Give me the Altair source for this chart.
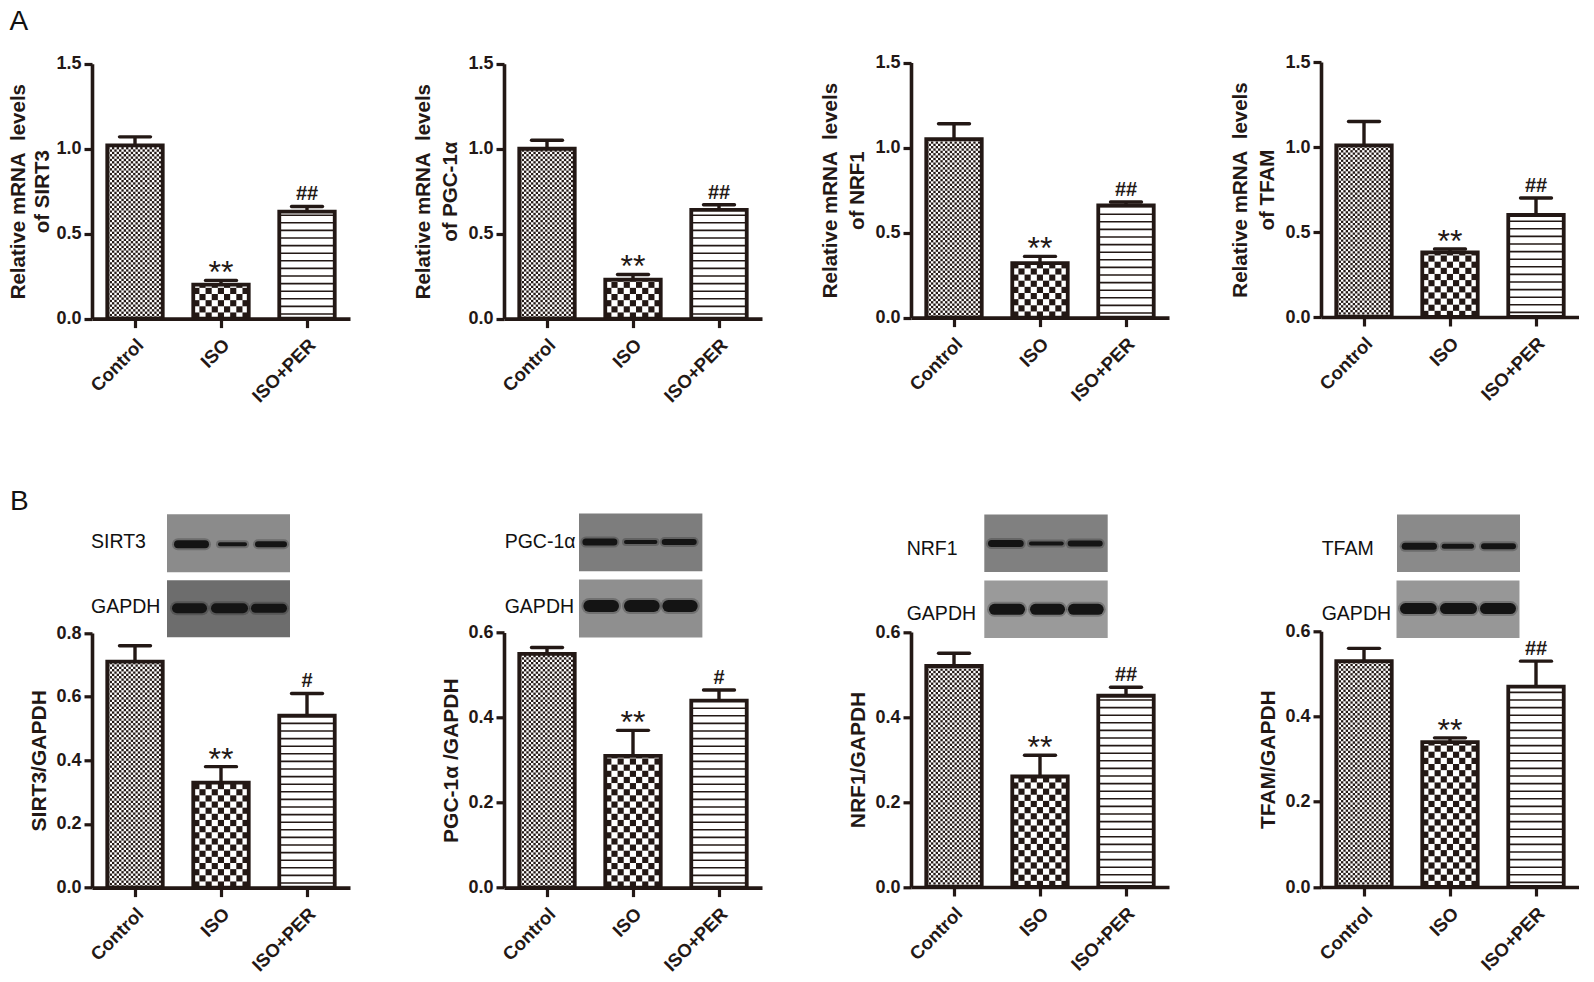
import json

import altair as alt
import pandas as pd

alt.data_transformers.disable_max_rows()

INK = "#231815"
FONT = "Liberation Sans"

groups = ["Control", "ISO", "ISO+PER"]

# bar heights and the top of each error bar
sirt3_mrna = [1.02, 0.20, 0.63]
sirt3_mrna_top = [1.07, 0.225, 0.66]
pgc_mrna = [1.00, 0.23, 0.64]
pgc_mrna_top = [1.05, 0.26, 0.67]
nrf1_mrna = [1.05, 0.32, 0.66]
nrf1_mrna_top = [1.14, 0.36, 0.68]
tfam_mrna = [1.01, 0.38, 0.60]
tfam_mrna_top = [1.15, 0.40, 0.70]

sirt3_prot = [0.71, 0.33, 0.54]
sirt3_prot_top = [0.76, 0.38, 0.61]
pgc_prot = [0.55, 0.31, 0.44]
pgc_prot_top = [0.565, 0.37, 0.465]
nrf1_prot = [0.52, 0.26, 0.45]
nrf1_prot_top = [0.55, 0.31, 0.47]
tfam_prot = [0.53, 0.34, 0.47]
tfam_prot_top = [0.56, 0.35, 0.53]

marks_a = ["", "**", "##"]
marks_b_single = ["", "**", "#"]
marks_b_double = ["", "**", "##"]

ticks_a = [0, 0.5, 1.0, 1.5]
ticks_b_sirt3 = [0, 0.2, 0.4, 0.6, 0.8]
ticks_b = [0, 0.2, 0.4, 0.6]

# layout of the figure: the panels are not on a perfect grid in the original
AXIS_W = 258
SPACING_X = 148
COLS = [92, 503.3, 910, 1320]
VIEW_W = [263.3, 258.7, 262, 258]
ROW_A_T = 61.7
ROW_B_T = 631
ROW_A_SPAN = [(63.5, 318.3), (63.5, 318.3), (62.3, 317.3), (61.7, 316.7)]
ROW_B_SPAN = [(632.7, 887.3), (632.3, 887.3), (631.7, 886.7), (631.0, 886.7)]

BAR_HALF = 0.3225  # in x units, one group is one unit
CAP_HALF = 0.18

# western blots: label, background, lanes as (left, right, thickness)
blots = [
    [
        dict(label="SIRT3", lx=91, ly=548, x=(167, 290), y=(514, 572), bg="#8b8b8b", band_y=544,
             lanes=[(174, 209, 8), (218, 247, 4), (255, 287, 6)]),
        dict(label="GAPDH", lx=91, ly=613, x=(167, 290), y=(580, 637), bg="#6d6d6d", band_y=608,
             lanes=[(172, 207, 10), (211, 248, 10), (251, 287, 9)]),
    ],
    [
        dict(label="PGC-1\u03b1", lx=504, ly=548, x=(578.3, 701.7), y=(513.3, 571), bg="#7d7d7d", band_y=541.7,
             lanes=[(581.7, 616.7, 7), (623.3, 656.7, 4), (661, 696, 6)]),
        dict(label="GAPDH", lx=504, ly=613, x=(578.3, 701.7), y=(579.3, 637.3), bg="#8f8f8f", band_y=605.7,
             lanes=[(582.7, 618.3, 12), (623.3, 659, 12), (661.7, 697, 12)]),
    ],
    [
        dict(label="NRF1", lx=905.7, ly=555, x=(983.3, 1106.7), y=(514.3, 571.7), bg="#808080", band_y=543.3,
             lanes=[(987, 1022.7, 7), (1028, 1062.7, 4), (1066.7, 1101.7, 6)]),
        dict(label="GAPDH", lx=905.7, ly=620, x=(983.3, 1106.7), y=(580.3, 637.7), bg="#9a9a9a", band_y=609,
             lanes=[(988, 1024, 11), (1029, 1064, 11), (1067, 1102.7, 11)]),
    ],
    [
        dict(label="TFAM", lx=1320.7, ly=555, x=(1396, 1519), y=(514.3, 571.7), bg="#8a8a8a", band_y=546,
             lanes=[(1400.7, 1436, 7), (1440.7, 1473, 5), (1480, 1515, 6)]),
        dict(label="GAPDH", lx=1320.7, ly=620, x=(1395.5, 1518.5), y=(580.3, 637.7), bg="#979797", band_y=608.3,
             lanes=[(1399, 1435.7, 11), (1439, 1476, 11), (1479, 1515, 11)]),
    ],
]


def checker(center, mean, cell, y_per_px, x_per_px=3 / AXIS_W):
    rows = []
    left = center - BAR_HALF
    right = center + BAR_HALF
    i = 0
    while left + i * cell * x_per_px < right:
        j = 0
        while j * cell * y_per_px < mean:
            if (i + j) % 2 == 0:
                rows.append(dict(
                    x=round(left + i * cell * x_per_px, 4),
                    x2=round(min(left + (i + 1) * cell * x_per_px, right), 4),
                    y=round(j * cell * y_per_px, 4),
                    y2=round(min((j + 1) * cell * y_per_px, mean), 4),
                ))
            j += 1
        i += 1
    return rows


def stripes(center, mean, y_per_px, period=7.6, thick=1.6):
    rows = []
    j = 0
    while (j + 0.5) * period * y_per_px < mean:
        lo = (j + 0.5) * period * y_per_px
        rows.append(dict(x=center - BAR_HALF, x2=center + BAR_HALF,
                         y=round(lo, 4), y2=round(lo + thick * y_per_px, 4)))
        j += 1
    return rows


def panel(means, tops, marks, ticks, title, col_i, span, row_top, blot_pair=None, letter=None,
          title_size=20.5, title_pad=7, title_lh=27):
    col = COLS[col_i]
    ymax = ticks[-1]
    height = span[1] - row_top
    y_per_px = ymax / (span[1] - span[0])
    centers = [i + 0.5 for i in range(3)]

    df = pd.DataFrame({
        "group": groups,
        "c": centers,
        "left": [c - BAR_HALF for c in centers],
        "right": [c + BAR_HALF for c in centers],
        "cap_l": [c - CAP_HALF for c in centers],
        "cap_r": [c + CAP_HALF for c in centers],
        "mean": means,
        "top": tops,
        "sig": marks,
    })

    cells = (
        checker(centers[0], means[0], 2.35, y_per_px)
        + checker(centers[1], means[1], 6.15, y_per_px)
        + stripes(centers[2], means[2], y_per_px)
    )
    cell_df = pd.DataFrame(cells)

    labels = json.dumps(groups)
    x_axis = alt.Axis(
        values=centers,
        labelExpr=f"{labels}[floor(datum.value)]",
        title=None,
        grid=False,
        labelAngle=315,
        labelAlign="right",
        labelBaseline="middle",
        labelFont=FONT,
        labelFontWeight="bold",
        labelFontSize=18.5,
        labelColor=INK,
        labelPadding=14,
        labelOffset=5,
        domainColor=INK,
        domainWidth=3.6,
        tickColor=INK,
        tickWidth=3.2,
        tickSize=9,
        zindex=2,
    )
    y_axis = alt.Axis(
        values=ticks,
        format=".1f",
        title=title,
        grid=False,
        labelFont=FONT,
        labelFontWeight="bold",
        labelFontSize=18,
        labelColor=INK,
        labelPadding=3,
        domainColor=INK,
        domainWidth=3.6,
        tickColor=INK,
        tickWidth=3.2,
        tickSize=8,
        titleFont=FONT,
        titleFontWeight="bold",
        titleFontSize=title_size,
        titleColor=INK,
        titleLineHeight=title_lh,
        titlePadding=title_pad,
        zindex=2,
    )
    x_enc = alt.X("left:Q", axis=x_axis,
                  scale=alt.Scale(domain=[0, 3], range=[0, AXIS_W], nice=False, zero=False))
    y_enc = alt.Y("base:Q", axis=y_axis,
                  scale=alt.Scale(domain=[0, ymax], range=[height, span[0] - row_top], nice=False))

    base = alt.Chart(df).transform_calculate(base="0")

    white = base.mark_rect(color="white").encode(x=x_enc, x2="right:Q", y=y_enc, y2="mean:Q")
    pattern = alt.Chart(cell_df).mark_rect(color=INK, strokeWidth=0).encode(
        x=alt.X("x:Q"), x2="x2:Q", y=alt.Y("y:Q"), y2="y2:Q"
    )
    outline = base.mark_rect(fill="transparent", stroke=INK, strokeWidth=3.8, strokeJoin="miter").encode(
        x=alt.X("left:Q"), x2="right:Q", y=alt.Y("base:Q"), y2="mean:Q"
    )
    stem = base.mark_rule(color=INK, strokeWidth=3.4).encode(x=alt.X("c:Q"), y=alt.Y("mean:Q"), y2="top:Q")
    cap = base.mark_rule(color=INK, strokeWidth=3.4, strokeCap="round").encode(
        x=alt.X("cap_l:Q"), x2="cap_r:Q", y=alt.Y("top:Q")
    )
    stars = base.transform_filter("datum.sig == '**'").mark_text(
        font=FONT, fontSize=32, color=INK, dy=3, baseline="alphabetic"
    ).encode(x=alt.X("c:Q"), y=alt.Y("top:Q"), text="sig:N")
    hashes = base.transform_filter("indexof(datum.sig, '#') == 0").mark_text(
        font=FONT, fontSize=20, fontWeight="bold", color=INK, dy=-6, baseline="alphabetic"
    ).encode(x=alt.X("c:Q"), y=alt.Y("top:Q"), text="sig:N")

    layers = [white, pattern, outline, stem, cap, stars, hashes]

    if blot_pair:
        one = alt.Chart(df.head(1))
        for blot in blot_pair:
            layers.append(
                one.mark_rect(color=blot["bg"]).encode(
                    x=alt.value(blot["x"][0] - col),
                    x2=alt.value(blot["x"][1] - col),
                    y=alt.value(blot["y"][0] - row_top),
                    y2=alt.value(blot["y"][1] - row_top),
                )
            )
            for l, r, thick in blot["lanes"]:
                # a faint wider band under the dark one softens the edge
                for width, opacity in [(thick + 4, 0.25), (thick, 1)]:
                    layers.append(
                        one.mark_rule(color="#141414", strokeWidth=width, opacity=opacity,
                                      strokeCap="round").encode(
                            x=alt.value(l + thick / 2 - col),
                            x2=alt.value(r - thick / 2 - col),
                            y=alt.value(blot["band_y"] - row_top),
                        )
                    )
            layers.append(
                one.mark_text(font=FONT, fontSize=19.5, color="#111111", align="left",
                              baseline="alphabetic", text=blot["label"]).encode(
                    x=alt.value(blot["lx"] - col),
                    y=alt.value(blot["ly"] - row_top),
                )
            )

    if letter:
        layers.append(
            alt.Chart(df.head(1)).mark_text(font=FONT, fontSize=28, color="#111111", align="left",
                                            baseline="alphabetic", text=letter[0]).encode(
                x=alt.value(letter[1] - col),
                y=alt.value(letter[2] - row_top),
            )
        )

    return alt.layer(*layers).properties(width=VIEW_W[col_i], height=height)


rel = "Relative mRNA\u00a0 levels"
row_a = [
    panel(sirt3_mrna, sirt3_mrna_top, marks_a, ticks_a, [rel, "of SIRT3"], 0, ROW_A_SPAN[0], ROW_A_T,
          letter=("A", 9.5, 30), title_pad=3, title_lh=24),
    panel(pgc_mrna, pgc_mrna_top, marks_a, ticks_a, [rel, "of PGC-1\u03b1"], 1, ROW_A_SPAN[1], ROW_A_T),
    panel(nrf1_mrna, nrf1_mrna_top, marks_a, ticks_a, [rel, "of NRF1"], 2, ROW_A_SPAN[2], ROW_A_T),
    panel(tfam_mrna, tfam_mrna_top, marks_a, ticks_a, [rel, "of TFAM"], 3, ROW_A_SPAN[3], ROW_A_T),
]
row_b = [
    panel(sirt3_prot, sirt3_prot_top, marks_b_single, ticks_b_sirt3, "SIRT3/GAPDH", 0, ROW_B_SPAN[0], ROW_B_T,
          blot_pair=blots[0], letter=("B", 10, 510), title_size=21, title_pad=6),
    panel(pgc_prot, pgc_prot_top, marks_b_single, ticks_b, "PGC-1\u03b1 /GAPDH", 1, ROW_B_SPAN[1], ROW_B_T,
          blot_pair=blots[1], title_size=21, title_pad=6),
    panel(nrf1_prot, nrf1_prot_top, marks_b_double, ticks_b, "NRF1/GAPDH", 2, ROW_B_SPAN[2], ROW_B_T,
          blot_pair=blots[2], title_size=21, title_pad=6),
    panel(tfam_prot, tfam_prot_top, marks_b_double, ticks_b, "TFAM/GAPDH", 3, ROW_B_SPAN[3], ROW_B_T,
          blot_pair=blots[3], title_size=21, title_pad=6),
]

# flush rows report no height of their own, so the spacing runs from row top to row top
chart = alt.vconcat(
    alt.hconcat(*row_a, spacing=SPACING_X, bounds="flush"),
    alt.hconcat(*row_b, spacing=SPACING_X, bounds="flush"),
    spacing=ROW_B_T - ROW_A_T,
    bounds="flush",
).properties(
    padding=0, background="white"
).configure_view(stroke=None)

chart.save("out.html", embed_options={"renderer": "svg", "actions": False})
